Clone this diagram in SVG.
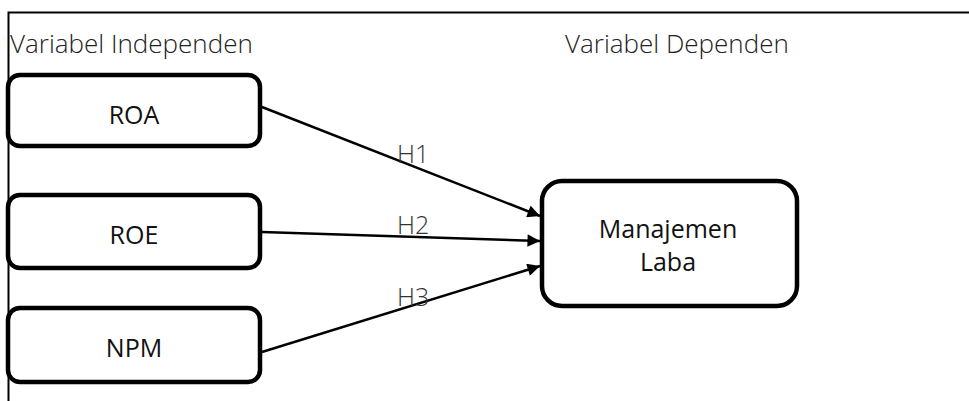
<svg xmlns="http://www.w3.org/2000/svg" width="969" height="401" viewBox="0 0 969 401">
<defs>
<marker id="ah" viewBox="0 0 10 10" refX="10" refY="5" markerWidth="5.5" markerHeight="5" markerUnits="strokeWidth" orient="auto">
<path d="M0,0 L10,5 L0,10 Z" fill="#000"/>
</marker>
<style>
.frame{stroke:#000;stroke-width:2;fill:none}
.box{fill:#fff;stroke:#000;stroke-width:4.5}
.lbl{font-family:"Open Sans","Noto Sans",sans-serif;font-size:25px;fill:#111;text-anchor:middle}
.hdr{font-family:"Open Sans","Noto Sans",sans-serif;font-size:26px;font-weight:300;fill:#222}
.conn{stroke:#000;stroke-width:2.5;fill:none;marker-end:url(#ah)}
.h{font-family:"Open Sans","Noto Sans",sans-serif;font-size:25px;font-weight:300;fill:#333}
</style>
</defs>
<rect width="969" height="401" fill="#fff"/>
<g id="frame">
<path class="frame" d="M8.5,401 V12.5 H969"/>
</g>
<text class="hdr" x="10" y="53">Variabel Independen</text>
<text class="hdr" x="565" y="53">Variabel Dependen</text>
<g id="connectors">
<line class="conn" x1="262" y1="107" x2="540" y2="216"/>
<line class="conn" x1="262" y1="232" x2="540" y2="241"/>
<line class="conn" x1="262" y1="352" x2="540" y2="266"/>
<text class="h" x="397" y="163">H1</text>
<text class="h" x="397" y="234">H2</text>
<text class="h" x="397" y="306">H3</text>
</g>
<g id="roa">
<rect class="box" x="8" y="75" width="252" height="71" rx="12"/>
<text class="lbl" x="134" y="124">ROA</text>
</g>
<g id="roe">
<rect class="box" x="8" y="195" width="252" height="73" rx="12"/>
<text class="lbl" x="134" y="244">ROE</text>
</g>
<g id="npm">
<rect class="box" x="8" y="308" width="252" height="74" rx="12"/>
<text class="lbl" x="134" y="357">NPM</text>
</g>
<g id="manajemen">
<rect class="box" x="542" y="181" width="255" height="125" rx="20"/>
<text class="lbl" x="668" y="238">Manajemen</text>
<text class="lbl" x="668" y="271">Laba</text>
</g>
</svg>
